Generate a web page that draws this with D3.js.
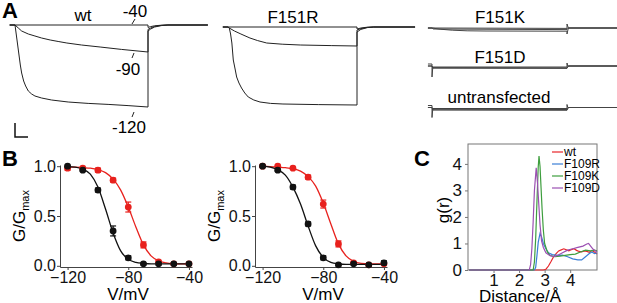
<!DOCTYPE html>
<html>
<head>
<meta charset="utf-8">
<script src="https://cdn.jsdelivr.net/npm/d3@7"></script>
<style>
  body { margin: 0; background: #fff; }
  svg { display: block; font-family: "Liberation Sans", Arial, sans-serif; }
</style>
</head>
<body>
<svg id="fig" width="617" height="303"></svg>
<script>
// ---------- data: panel A current traces, [time ms, current nA] ----------
const wtTrace40 = [[-40, 0], [0, 0], [1000, 0], [1000, -0.12], [1020, -0.08], [1050, -0.04], [1100, -0.01], [1150, 0], [1450, 0]];
const wtTrace90 = [[-40, 0], [0, 0], [25, -0.15], [50, -0.3], [100, -0.45], [150, -0.55], [200, -0.65], [265, -0.75],
  [330, -0.83], [390, -0.9], [500, -1.0], [640, -1.1], [800, -1.22], [1000, -1.35],
  [1000, -0.22], [1020, -0.15], [1050, -0.07], [1100, -0.02], [1150, 0], [1450, 0]];
const wtTrace120 = [[-40, 0], [0, 0], [10, -0.5], [20, -1.0], [30, -1.5], [40, -2.0], [50, -2.4], [65, -2.8], [80, -3.05],
  [100, -3.3], [125, -3.45], [150, -3.55], [200, -3.65], [275, -3.75], [400, -3.85], [550, -3.92], [700, -3.97],
  [850, -4.03], [1000, -4.1], [1000, -0.3], [1020, -0.2], [1050, -0.1], [1100, -0.03], [1150, 0], [1450, 0]];

const rTrace40 = [[-40, 0], [0, 0], [1000, 0], [1000, -0.1], [1030, -0.05], [1080, -0.01], [1130, 0], [1450, 0]];
const rTrace90 = [[-40, 0], [0, 0], [10, -0.05], [50, -0.2], [100, -0.35], [170, -0.55], [230, -0.68], [300, -0.8],
  [420, -0.86], [560, -0.9], [800, -0.93], [1000, -0.95], [1000, -0.15], [1030, -0.08], [1080, -0.02], [1130, 0], [1450, 0]];
const rTrace120 = [[-40, 0], [0, 0], [10, -0.05], [20, -0.35], [30, -0.8], [41, -1.65], [55, -2.1], [67, -2.5], [85, -2.8],
  [105, -3.05], [130, -3.3], [157, -3.5], [200, -3.65], [248, -3.75], [330, -3.82], [426, -3.85], [700, -3.88],
  [1000, -3.9], [1000, -0.25], [1030, -0.12], [1080, -0.03], [1130, 0], [1450, 0]];

const kTrace40 = [[-30, 0], [0, 0], [1000, -0.02], [1000, 0.2], [1010, 0], [1450, 0]];
const kTrace90 = [[-30, 0], [0, 0], [10, -0.05], [1000, -0.08], [1010, 0], [1450, 0]];
const kTrace120 = [[-30, 0], [0, 0], [60, -0.06], [150, -0.11], [260, -0.14], [400, -0.15], [1000, -0.16], [1000, -0.3], [1010, 0], [1450, 0]];

const dTrace40 = [[-30, 0.1], [0, 0.1], [0, -0.55], [6, -0.05], [1000, -0.05], [1000, 0.15], [1006, 0], [1450, 0]];
const dTrace90 = [[-30, 0], [0, 0], [6, -0.08], [1000, -0.09], [1010, 0], [1450, 0]];
const dTrace120 = [[-30, 0], [0, 0], [6, -0.11], [1000, -0.12], [1010, 0], [1450, 0]];

const uTrace40 = [[-30, 0.1], [0, 0.1], [0, -0.5], [6, -0.05], [1000, -0.05], [1000, 0.15], [1006, 0], [1450, 0]];
const uTrace90 = [[-30, 0], [0, 0], [6, -0.09], [1000, -0.1], [1010, 0], [1450, 0]];
const uTrace120 = [[-30, 0], [0, 0], [6, -0.13], [1000, -0.14], [1010, 0], [1450, 0]];

// ---------- data: panel B, G/Gmax vs voltage ----------
const voltages = [-120, -110, -100, -90, -80, -70, -60, -50, -40];
const wtBlackG = [1.0, 0.96, 0.76, 0.35, 0.08, 0.02, 0.02, 0.02, 0.02];
const wtBlackErr = [0.01, 0.01, 0.02, 0.05, 0.02, 0.01, 0.01, 0.01, 0.01];
const wtRedG = [0.98, 0.98, 0.96, 0.86, 0.59, 0.21, 0.04, 0.02, 0.02];
const wtRedErr = [0.02, 0.01, 0.02, 0.02, 0.05, 0.03, 0.01, 0.01, 0.01];
const mutBlackG = [1.0, 0.96, 0.79, 0.42, 0.08, 0.01, 0.02, 0.01, 0.03];
const mutBlackErr = [0.01, 0.01, 0.02, 0.02, 0.02, 0.01, 0.01, 0.01, 0.02];
const mutRedG = [1.0, 1.0, 0.98, 0.89, 0.62, 0.22, 0.03, 0.01, 0.02];
const mutRedErr = [0.01, 0.01, 0.01, 0.02, 0.04, 0.03, 0.01, 0.01, 0.01];

const fitVolts = [-120, -115, -110, -105, -100, -95, -90, -85, -80, -75, -70, -65, -60, -55, -50, -45, -40];
const wtBlackFit = [0.996, 0.99, 0.97, 0.92, 0.79, 0.57, 0.33, 0.15, 0.065, 0.035, 0.025, 0.02, 0.02, 0.02, 0.02, 0.02, 0.02];
const wtRedFit = [0.99, 0.99, 0.985, 0.98, 0.965, 0.935, 0.87, 0.76, 0.59, 0.39, 0.21, 0.1, 0.05, 0.03, 0.02, 0.02, 0.02];
const mutBlackFit = [1.0, 0.99, 0.965, 0.91, 0.79, 0.62, 0.4, 0.2, 0.085, 0.035, 0.02, 0.015, 0.015, 0.015, 0.015, 0.015, 0.015];
const mutRedFit = [1.0, 0.995, 0.99, 0.985, 0.975, 0.95, 0.895, 0.8, 0.63, 0.42, 0.22, 0.1, 0.045, 0.025, 0.02, 0.02, 0.02];

// ---------- data: panel C, radial distribution g(r) ----------
const gWt = [[0.05, 0], [2.95, 0], [3.05, 0.03], [3.15, 0.15], [3.25, 0.32], [3.35, 0.5], [3.45, 0.62], [3.55, 0.72],
  [3.65, 0.76], [3.75, 0.8], [3.85, 0.76], [3.95, 0.72], [4.05, 0.77], [4.15, 0.8], [4.25, 0.74], [4.35, 0.7],
  [4.45, 0.68], [4.55, 0.72], [4.65, 0.7], [4.75, 0.67], [4.85, 0.74], [4.95, 0.68], [5.05, 0.6]];
const gR = [[0.05, 0], [2.6, 0], [2.65, 0.1], [2.7, 0.55], [2.75, 1.05], [2.82, 1.38], [2.88, 1.25], [2.95, 1.0],
  [3.05, 0.8], [3.15, 0.65], [3.3, 0.58], [3.5, 0.55], [3.7, 0.56], [3.9, 0.5], [4.1, 0.42], [4.3, 0.38],
  [4.45, 0.38], [4.6, 0.5], [4.75, 0.62], [4.85, 0.68], [4.95, 0.62], [5.05, 0.64]];
const gK = [[0.05, 0], [2.55, 0], [2.6, 0.3], [2.65, 1.2], [2.7, 2.6], [2.75, 3.9], [2.78, 4.3], [2.82, 3.9],
  [2.86, 3.1], [2.9, 2.3], [2.95, 1.5], [3.0, 1.0], [3.1, 0.7], [3.2, 0.55], [3.4, 0.5], [3.6, 0.52],
  [3.8, 0.55], [4.0, 0.58], [4.2, 0.6], [4.4, 0.68], [4.6, 0.75], [4.8, 0.72], [4.95, 0.75], [5.05, 0.72]];
const gD = [[0.05, 0], [2.4, 0], [2.45, 0.2], [2.5, 0.8], [2.55, 1.8], [2.6, 3.0], [2.67, 3.85], [2.72, 3.3],
  [2.77, 2.5], [2.82, 1.7], [2.88, 1.1], [2.95, 0.85], [3.05, 0.65], [3.2, 0.55], [3.35, 0.5], [3.5, 0.55],
  [3.7, 0.65], [3.9, 0.75], [4.1, 0.8], [4.3, 0.85], [4.5, 0.9], [4.65, 0.98], [4.72, 1.0], [4.8, 0.9],
  [4.9, 0.78], [5.05, 0.68]];
const rdfNames = ['wt', 'F109R', 'F109K', 'F109D'];
const rdfColors = ['#e8262b', '#3b7fd6', '#3e9e3e', '#9b50b2'];

const svg = d3.select('#fig');
const font = '"Liberation Sans", Arial, sans-serif';

// panel letters
[['A', 2, 18], ['B', 2, 166], ['C', 414, 166]].forEach(d => {
    svg.append('text').attr('x', d[1]).attr('y', d[2])
        .attr('font-size', 22).attr('font-weight', 'bold').text(d[0]);
});

// ===== Panel A: traces =====
function drawTraces(traces, xRange, y0, stroke) {
    let x = d3.scaleLinear().domain([0, 1000]).range(xRange);
    let y = d3.scaleLinear().domain([0, -1]).range([y0, y0 + 20]);
    let line = d3.line().x(d => x(d[0])).y(d => y(d[1]));
    let g = svg.append('g');
    g.selectAll('path')
        .data(traces)
        .enter().append('path')
        .attr('d', line)
        .attr('fill', 'none')
        .attr('stroke', stroke)
        .attr('stroke-width', 1);
    return { x: x, y: y };
}

drawTraces([wtTrace40, wtTrace90, wtTrace120], [15, 148], 25, '#222');
drawTraces([rTrace40, rTrace90, rTrace120], [228, 357], 27, '#222');
drawTraces([kTrace40, kTrace90, kTrace120], [432, 567], 28, '#444');
drawTraces([dTrace40, dTrace90, dTrace120], [432, 567], 66, '#444');
drawTraces([uTrace40, uTrace90, uTrace120], [432, 567], 107.5, '#444');

const traceLabels = [['wt', 83, 21], ['F151R', 293, 23], ['F151K', 500, 23], ['F151D', 500, 63], ['untransfected', 499, 103]];
traceLabels.forEach(d => {
    svg.append('text').attr('x', d[1]).attr('y', d[2]).attr('text-anchor', 'middle')
        .attr('font-size', 17).text(d[0]);
});

// voltage labels with pointer ticks (wt)
const voltLabels = [['-40', 135, 17], ['-90', 128, 75], ['-120', 129, 133]];
voltLabels.forEach(d => {
    svg.append('text').attr('x', d[1]).attr('y', d[2]).attr('text-anchor', 'middle')
        .attr('font-size', 17).text(d[0]);
});
// little slashes between label and trace
[[132, 24, 135, 19], [132, 58, 134, 53], [132, 117, 134, 112]].forEach(d => {
    svg.append('line').attr('x1', d[0]).attr('y1', d[1]).attr('x2', d[2]).attr('y2', d[3])
        .attr('stroke', '#222').attr('stroke-width', 1);
});

// scale bar
svg.append('path').attr('d', 'M15,123V137H28').attr('fill', 'none')
    .attr('stroke', '#111').attr('stroke-width', 1.5);

// ===== Panel B: G-V curves =====
function drawGV(left, series) {
    let x = d3.scaleLinear().domain([-125, -38]).range([left, left + 132]);
    let y = d3.scaleLinear().domain([-0.012, 1.012]).range([267, 165]);
    let g = svg.append('g');

    let xAxis = g.append('g').attr('transform', 'translate(0,267)')
        .call(d3.axisBottom(x).tickValues([-120, -80, -40]).tickSize(3).tickSizeOuter(0).tickPadding(2));
    let yAxis = g.append('g').attr('transform', `translate(${left},0)`)
        .call(d3.axisLeft(y).tickValues([0, 0.5, 1]).tickFormat(d3.format('.1f')).tickSize(3).tickSizeOuter(0).tickPadding(1));
    [xAxis, yAxis].forEach(a => {
        a.selectAll('path,line').attr('stroke', '#444');
        a.selectAll('text').attr('font-size', 16).attr('font-family', font).attr('fill', '#111');
    });

    let fitLine = d3.line().x((d, i) => x(fitVolts[i])).y(d => y(d)).curve(d3.curveMonotoneX);
    series.forEach(s => {
        g.append('path').datum(s.fit).attr('d', fitLine)
            .attr('fill', 'none').attr('stroke', s.color).attr('stroke-width', 1.3);
    });
    series.forEach(s => {
        let pts = voltages.map((v, i) => ({ v: v, g: s.vals[i], e: s.err[i] }));
        let eb = g.append('g');
        eb.selectAll('line.v').data(pts).enter().append('line')
            .attr('x1', d => x(d.v)).attr('x2', d => x(d.v))
            .attr('y1', d => y(d.g - d.e)).attr('y2', d => y(d.g + d.e))
            .attr('stroke', s.color).attr('stroke-width', 1.2);
        [1, -1].forEach(sgn => {
            eb.selectAll('line.c' + sgn).data(pts).enter().append('line')
                .attr('x1', d => x(d.v) - 3).attr('x2', d => x(d.v) + 3)
                .attr('y1', d => y(d.g + sgn * d.e)).attr('y2', d => y(d.g + sgn * d.e))
                .attr('stroke', s.color).attr('stroke-width', 1.2);
        });
        g.selectAll(null).data(pts).enter().append('circle')
            .attr('cx', d => x(d.v)).attr('cy', d => y(d.g)).attr('r', 3.4)
            .attr('fill', s.color);
    });

    g.append('text').attr('x', left + 68).attr('y', 300).attr('text-anchor', 'middle')
        .attr('font-size', 17).text('V/mV');
    let lab = g.append('text')
        .attr('transform', `translate(${left - 35},216) rotate(-90)`)
        .attr('text-anchor', 'middle').attr('font-size', 17);
    lab.append('tspan').text('G/G');
    lab.append('tspan').attr('font-size', 11).attr('dy', 4).text('max');
}

drawGV(60, [
    { vals: wtRedG, err: wtRedErr, fit: wtRedFit, color: '#e8211d' },
    { vals: wtBlackG, err: wtBlackErr, fit: wtBlackFit, color: '#111' }
]);
drawGV(255, [
    { vals: mutRedG, err: mutRedErr, fit: mutRedFit, color: '#e8211d' },
    { vals: mutBlackG, err: mutBlackErr, fit: mutBlackFit, color: '#111' }
]);

// ===== Panel C: g(r) =====
{
    let x = d3.scaleLinear().domain([0, 5.05]).range([468, 597]);
    let y = d3.scaleLinear().domain([0, 4.75]).range([270, 144]);
    let g = svg.append('g');

    g.append('rect').attr('x', 468).attr('y', 144).attr('width', 129).attr('height', 126)
        .attr('fill', 'none').attr('stroke', '#777').attr('stroke-width', 1);

    let xAxis = g.append('g').attr('transform', 'translate(0,270)')
        .call(d3.axisBottom(x).tickValues([1, 2, 3, 4]).tickFormat(d3.format('d'))
            .tickSize(3).tickSizeOuter(0).tickPadding(1));
    let yAxis = g.append('g').attr('transform', 'translate(468,0)')
        .call(d3.axisLeft(y).tickValues([0, 1, 2, 3, 4]).tickFormat(d3.format('d'))
            .tickSize(3).tickSizeOuter(0).tickPadding(3));
    [xAxis, yAxis].forEach(a => {
        a.select('.domain').remove();
        a.selectAll('line').attr('stroke', '#777');
        a.selectAll('text').attr('font-size', 17).attr('font-family', font).attr('fill', '#111');
    });

    let line = d3.line().x(d => x(d[0])).y(d => y(d[1]));
    [gWt, gR, gK, gD].forEach((s, i) => {
        g.append('path').datum(s).attr('d', line)
            .attr('fill', 'none').attr('stroke', rdfColors[i]).attr('stroke-width', 1.2);
    });

    // legend
    rdfNames.forEach((n, i) => {
        let ly = 152 + i * 12;
        g.append('line').attr('x1', 552).attr('x2', 563).attr('y1', ly).attr('y2', ly)
            .attr('stroke', rdfColors[i]).attr('stroke-width', 1.2);
        g.append('text').attr('x', 564).attr('y', ly + 4).attr('font-size', 12).text(n);
    });

    g.append('text').attr('x', 520).attr('y', 302).attr('text-anchor', 'middle')
        .attr('font-size', 17).text('Distance/Å');
    g.append('text').attr('transform', 'translate(449,210) rotate(-90)')
        .attr('text-anchor', 'middle').attr('font-size', 17).text('g(r)');
}
</script>
</body>
</html>
